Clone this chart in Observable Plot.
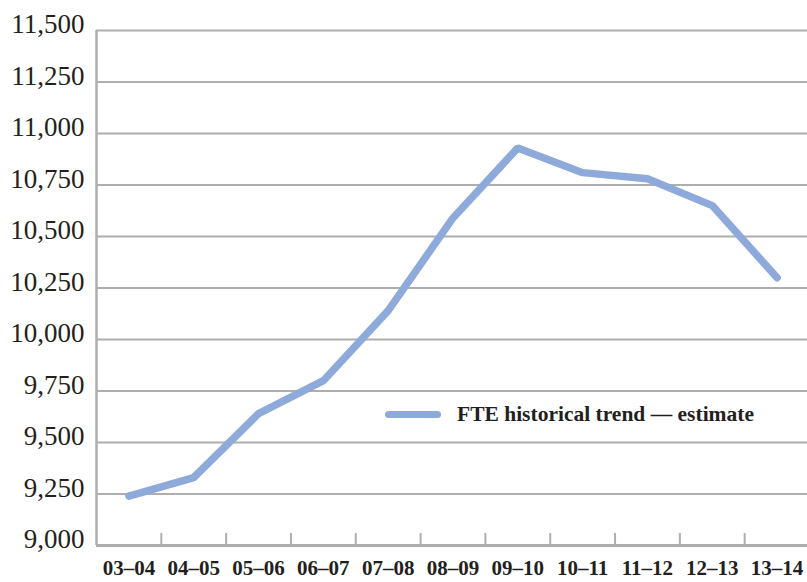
<!DOCTYPE html>
<html>
<head>
<meta charset="utf-8">
<script src="https://cdn.jsdelivr.net/npm/d3@7"></script>
<script src="https://cdn.jsdelivr.net/npm/@observablehq/plot@0.6"></script>
<style>
  html, body { margin: 0; padding: 0; background: #fff; }
  #wrap { position: relative; width: 807px; height: 582px; overflow: hidden; }
  #legend { position: absolute; left: 385px; top: 402px; display: flex; align-items: center;
    font-family: "Liberation Serif", serif; font-weight: bold; font-size: 21.5px; color: #231f20; }
  #legend .sw { width: 56px; height: 7px; border-radius: 4px; background: #8eaadb; margin-right: 16px; }
</style>
</head>
<body>
<div id="wrap"><div id="legend"><div class="sw"></div><span id="legtext"></span></div></div>
<script>
const categories = ["03–04","04–05","05–06","06–07","07–08","08–09","09–10","10–11","11–12","12–13","13–14"];
const fteValues = [9240, 9330, 9640, 9800, 10140, 10590, 10930, 10810, 10780, 10650, 10300];
const yTicks = [9000, 9250, 9500, 9750, 10000, 10250, 10500, 10750, 11000, 11250, 11500];
const seriesName = "FTE historical trend — estimate";

const data = categories.map((c, i) => ({year: c, value: fteValues[i]}));

const W = 807, H = 582, ML = 96, MR = -2, MT = 30, MB = 37;
const step = (W - ML - MR) / categories.length;
const plotH = H - MT - MB;
const gray = "#aeaeae";

const chart = Plot.plot({
  width: W, height: H,
  marginLeft: ML, marginRight: MR, marginTop: MT, marginBottom: MB,
  style: {fontFamily: "Liberation Serif, serif", color: "#231f20", background: "#fff"},
  x: {type: "point", domain: categories, padding: 0.5, round: false, label: null},
  y: {domain: [9000, 11500], label: null},
  marks: [
    Plot.gridY(yTicks, {stroke: gray, strokeOpacity: 1, strokeWidth: 2}),
    Plot.ruleX([categories[0]], {dx: -step / 2, stroke: gray, strokeWidth: 2.5}),
    Plot.ruleX(categories.slice(1), {dx: -step / 2, stroke: gray, strokeWidth: 2, insetTop: plotH - 12}),
    Plot.ruleY([9000], {stroke: gray, strokeWidth: 3}),
    Plot.axisY({ticks: yTicks, tickSize: 0, tickPadding: 12, tickFormat: d3.format(","), fontSize: 27, dy: -6, label: null}),
    Plot.axisX({tickSize: 0, tickPadding: 15, fontSize: 21, fontWeight: "bold", label: null}),
    Plot.line(data, {x: "year", y: "value", stroke: "#8eaadb", strokeWidth: 7.5, strokeLinejoin: "miter", strokeLinecap: "round"})
  ]
});
document.getElementById("wrap").prepend(chart);
document.getElementById("legtext").textContent = seriesName;
</script>
</body>
</html>
